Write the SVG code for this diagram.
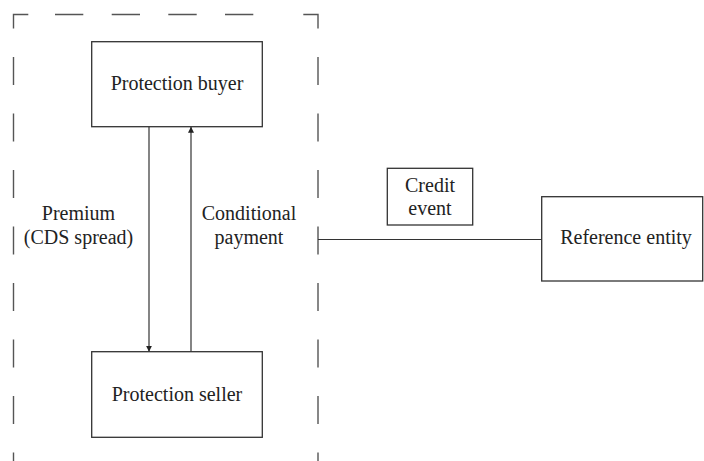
<svg xmlns="http://www.w3.org/2000/svg" width="704" height="461" viewBox="0 0 704 461">
<style>
.box{fill:#fff;stroke:#333;stroke-width:1.3}
.dash{fill:none;stroke:#555;stroke-width:1.4}
.conn{fill:none;stroke:#333;stroke-width:1.2}
.t{font-size:20px;fill:#222;text-anchor:middle}
</style>
<defs>
<marker id="ah" viewBox="0 0 10 10" refX="10" refY="5" markerWidth="6" markerHeight="8" markerUnits="userSpaceOnUse" orient="auto">
<path d="M0,0 L10,5 L0,10 Z" fill="#222"/>
</marker>
</defs>
<g id="boundary">
<path class="dash" d="M13.5,28.5 V14.5 H28.3 M55,14.5 H83.3 M111.7,14.5 H140 M168.3,14.5 H196.7 M225,14.5 H253.3 M303.3,14.5 H318 V28.5 M13.5,57 V85 M13.5,113.5 V141.5 M13.5,170 V198 M13.5,226.5 V254.5 M13.5,283 V311 M13.5,339.5 V367.5 M13.5,396 V424 M13.5,452.5 V480 M318,57 V85 M318,113.5 V141.5 M318,170 V198 M318,226.5 V254.5 M318,283 V311 M318,339.5 V367.5 M318,396 V424 M318,452.5 V480"/>
</g>
<g id="connectors">
<line class="conn" x1="149" y1="126.7" x2="149" y2="351.7" marker-end="url(#ah)"/>
<line class="conn" x1="191" y1="351.7" x2="191" y2="126.7" marker-end="url(#ah)"/>
<line class="conn" x1="318" y1="239.5" x2="541.7" y2="239.5"/>
</g>
<g font-family="'Liberation Serif', 'DejaVu Serif', 'Times New Roman', serif">
<g id="protection-buyer">
<rect class="box" x="91.7" y="41.7" width="170.6" height="85"/>
<text class="t" x="177" y="90">Protection buyer</text>
</g>
<g id="protection-seller">
<rect class="box" x="91.7" y="351.7" width="170.6" height="85.6"/>
<text class="t" x="177" y="400.5">Protection seller</text>
</g>
<g id="reference-entity">
<rect class="box" x="541.7" y="196.7" width="161" height="84.3"/>
<text class="t" x="626" y="244">Reference entity</text>
</g>
<g id="credit-event">
<rect class="box" x="387.3" y="168.3" width="85.4" height="56.7"/>
<text class="t" x="430" y="191.5">Credit</text>
<text class="t" x="430" y="215">event</text>
</g>
<g id="labels">
<text class="t" x="78.5" y="220">Premium</text>
<text class="t" x="78.5" y="243.5">(CDS spread)</text>
<text class="t" x="249" y="220">Conditional</text>
<text class="t" x="249" y="243.5">payment</text>
</g>
</g>
</svg>
